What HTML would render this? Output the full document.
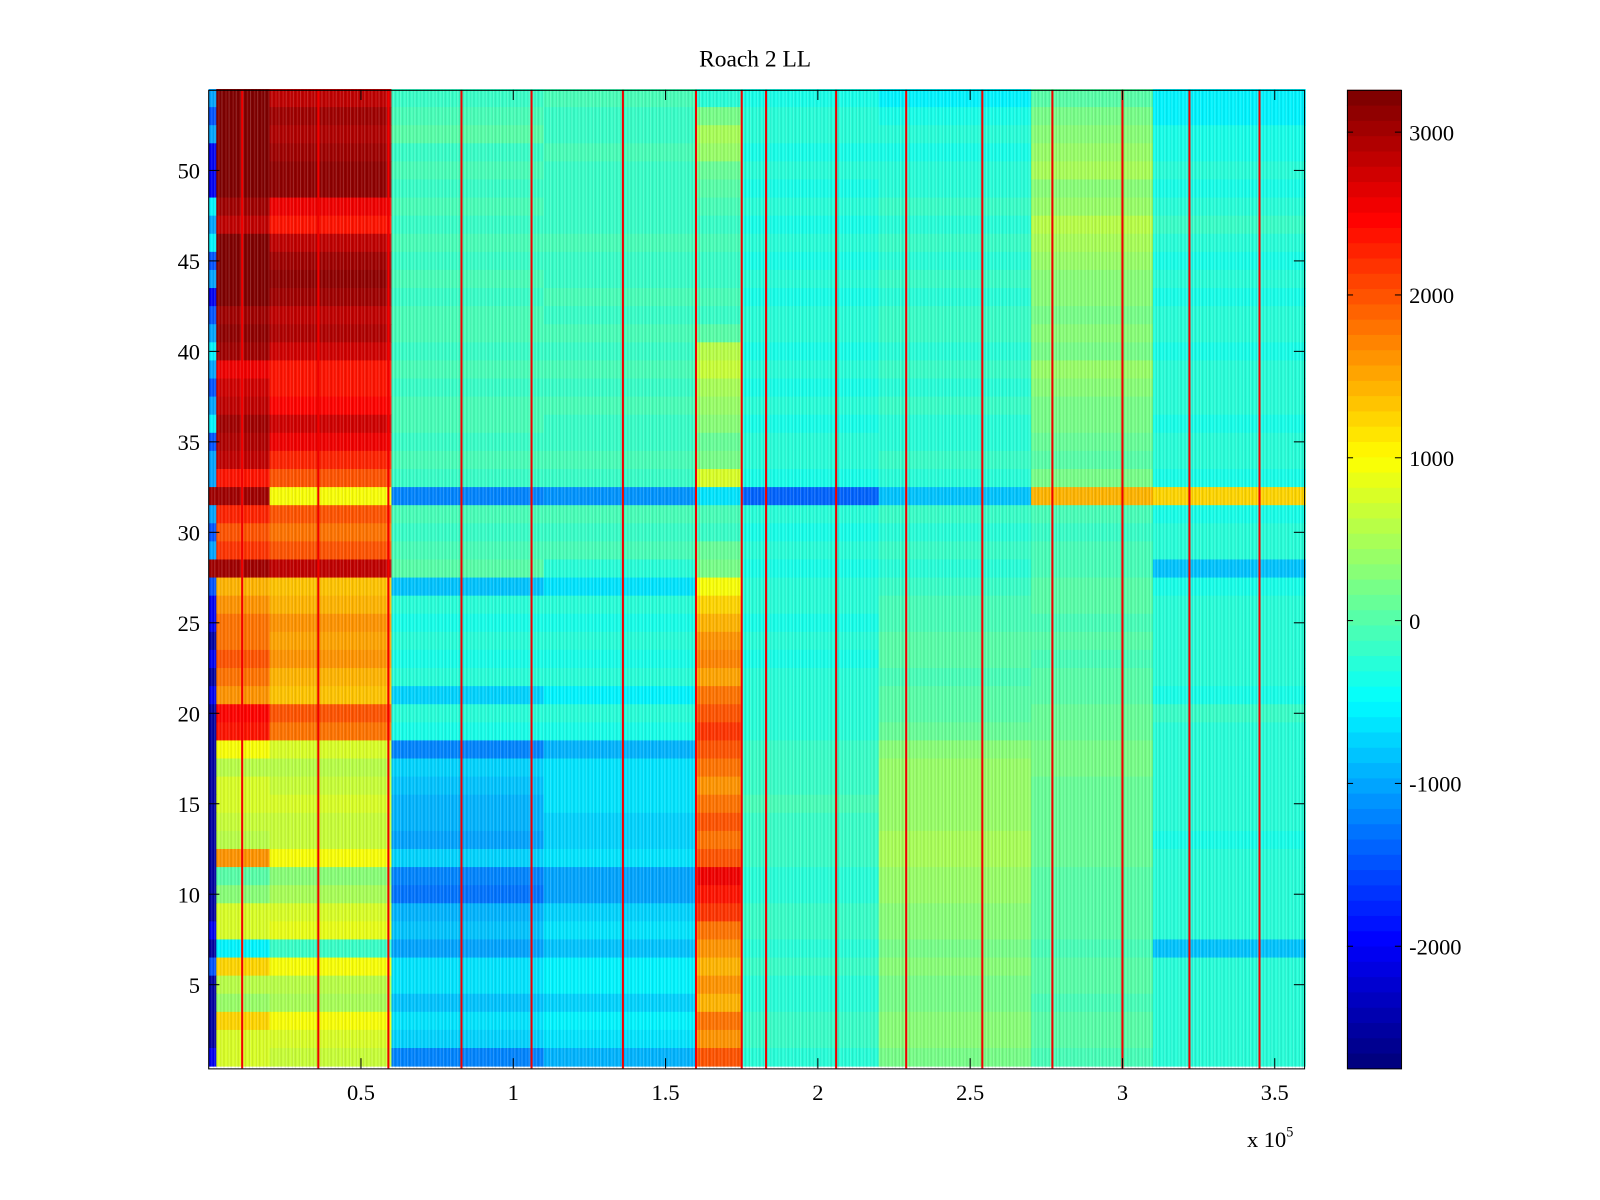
<!DOCTYPE html>
<html><head><meta charset="utf-8"><style>
html,body{margin:0;padding:0;background:#fff;}
svg{display:block;font-family:"Liberation Serif",serif;}
</style></head><body>
<svg id="chart" width="1600" height="1200" viewBox="0 0 1568 1176" xmlns="http://www.w3.org/2000/svg">
<defs>
<pattern id="tex" width="7" height="18" patternUnits="userSpaceOnUse">
<rect x="0" y="0" width="1" height="18" fill="rgba(255,255,255,0.18)"/>
<rect x="2" y="0" width="1" height="18" fill="rgba(0,0,0,0.10)"/>
<rect x="4" y="0" width="1" height="18" fill="rgba(255,255,255,0.12)"/>
<rect x="6" y="0" width="1" height="18" fill="rgba(0,0,0,0.08)"/>
</pattern>
</defs>
<text x="740" y="65" font-size="23" text-anchor="middle">Roach 2 LL</text>
<g id="cells"></g>
<rect x="205" y="88" width="1073" height="959" fill="url(#tex)"/>
<g id="spikes"></g>
<rect x="204.5" y="88.5" width="1074" height="959" fill="none" stroke="#000" stroke-width="1"/>
<g id="axes"></g>
<g id="cbar"></g>
</svg>
<script>
const xEdges = [0,0.025,0.2,0.6,1.1,1.6,1.75,2.2,2.7,3.1,3.6];
const rowsTopDown = [
[-10,32,28,-2,-1,-3,-4,-5,0,-5],[-15,32,30,-1,-2,2,-3,-4,2,-5],[-10,32,29,0,-2,5,-3,-3,3,-4],
[-20,32,30,-2,-1,4,-4,-4,4,-4],[-20,32,31,-1,-2,1,-3,-3,5,-3],[-20,32,31,-2,-2,0,-4,-3,3,-4],
[-5,30,26,-1,-2,-1,-3,-2,4,-3],[-10,28,24,-2,-2,-2,-4,-3,6,-2],[-5,32,28,-1,-1,-1,-3,-2,5,-3],
[-15,32,30,-2,-2,-2,-4,-3,4,-4],[-10,32,31,-1,-2,-2,-3,-2,3,-3],[-20,32,30,-2,-1,-1,-4,-3,3,-4],
[-15,30,28,-1,-2,-2,-3,-2,2,-3],[-10,31,29,-1,-1,0,-3,-2,3,-3],[-5,30,27,-2,-2,6,-4,-3,2,-4],
[-10,26,24,-1,-1,7,-3,-2,4,-3],[-15,27,24,-2,-2,5,-4,-3,3,-3],[-10,28,25,-1,-1,4,-3,-2,2,-3],
[-5,30,27,-1,-2,3,-4,-3,2,-4],[-15,29,26,-2,-2,1,-3,-3,1,-3],[-10,28,23,-1,-1,2,-3,-2,0,-3],
[-10,24,20,-2,-2,8,-4,-3,2,-4],[30,30,10,-12,-11,-6,-14,-8,14,12],[-10,23,20,-1,-1,-1,-3,-2,-1,-4],
[-15,20,18,-2,-2,-2,-4,-3,-2,-3],[-10,22,20,-1,-1,1,-3,-2,-1,-3],[30,30,28,0,-3,2,-4,-3,-1,-8],
[-15,14,13,-8,-6,10,-3,-2,0,-4],[-20,16,14,-3,-3,12,-3,-1,0,-3],[-20,18,16,-4,-4,14,-4,-1,-1,-3],
[-25,18,15,-3,-3,16,-3,0,0,-3],[-20,20,16,-4,-4,17,-4,0,-1,-3],[-25,18,14,-3,-3,15,-3,-1,0,-3],
[-20,16,13,-7,-5,18,-3,0,0,-4],[-25,25,20,-3,-3,20,-3,0,1,-2],[-25,24,18,-4,-4,22,-3,1,1,-3],
[-25,10,8,-12,-9,20,-2,3,2,-3],[-25,6,6,-7,-6,18,-2,4,2,-3],[-25,8,7,-8,-6,16,-2,4,1,-3],
[-25,8,8,-9,-6,18,-1,4,1,-3],[-25,7,7,-9,-7,20,-2,4,1,-3],[-25,6,7,-10,-7,18,-2,5,1,-4],
[-25,16,10,-7,-6,20,-2,5,1,-3],[-25,0,3,-12,-10,26,-3,4,0,-3],[-25,3,5,-13,-10,24,-3,4,0,-3],
[-25,8,8,-9,-7,22,-2,3,0,-3],[-20,8,9,-8,-6,18,-2,3,0,-3],[-25,-5,-2,-10,-8,16,-3,2,-1,-8],
[-15,12,10,-6,-5,14,-2,3,0,-3],[-25,6,6,-6,-5,16,-3,2,0,-3],[-25,4,5,-8,-7,14,-3,2,-1,-3],
[-25,12,10,-6,-5,18,-2,3,0,-3],[-25,8,8,-7,-6,16,-2,3,0,-3],[-20,8,7,-12,-9,20,-3,2,-1,-3]
];
const spikeX = [0.11,0.36,0.59,0.83,1.06,1.36,1.6,1.75,1.83,2.06,2.29,2.54,2.77,3.0,3.22,3.45];
const spikeValue = 2600;
const xTicks = [0.5,1,1.5,2,2.5,3,3.5];
const xTickLabels = ["0.5","1","1.5","2","2.5","3","3.5"];
const yTicks = [5,10,15,20,25,30,35,40,45,50];
const cTicks = [-2000,-1000,0,1000,2000,3000];
const cMin = -2750, cMax = 3260;

const NS = "http://www.w3.org/2000/svg";
function xs(v){return 204.5 + v*298.5;}
function ys(v){return 965 - (v-5)*17.733;}
function cs(v){return 1047 - (v-cMin)/(cMax-cMin)*959;}
function jet(v){
  let t=(v-cMin)/(cMax-cMin); t=Math.max(0,Math.min(1,t));
  t=Math.floor(t*63.999)/63;
  const f=x=>Math.max(0,Math.min(1,x));
  const r=f(1.5-Math.abs(4*t-3)), g=f(1.5-Math.abs(4*t-2)), b=f(1.5-Math.abs(4*t-1));
  return `rgb(${Math.round(r*255)},${Math.round(g*255)},${Math.round(b*255)})`;
}
function mk(tag,attrs,parent){const e=document.createElementNS(NS,tag);for(const k in attrs)e.setAttribute(k,attrs[k]);parent.appendChild(e);return e;}

const cells=document.getElementById('cells');
rowsTopDown.forEach((row,ri)=>{
  const yv=54-ri;
  row.forEach((val,ci)=>{
    const x0=xs(xEdges[ci]), x1=xs(xEdges[ci+1]);
    const y0=ys(yv+0.5), y1=ys(yv-0.5);
    const r=mk('rect',{x:x0,y:y0,width:x1-x0+0.5,height:y1-y0+0.5,fill:jet(val*100)},cells);
    
    
  });
});
const spikes=document.getElementById('spikes');
spikeX.forEach(sx=>{
  const r=mk('rect',{x:xs(sx)-1,y:88,width:2,height:959,fill:jet(spikeValue)},spikes);
  
  
});
const axes=document.getElementById('axes');
xTicks.forEach((t,i)=>{
  const x=xs(t);
  mk('line',{x1:x,y1:1047,x2:x,y2:1037,stroke:'#000'},axes);
  mk('line',{x1:x,y1:88,x2:x,y2:98,stroke:'#000'},axes);
  const tx=mk('text',{x:x,y:1078,'font-size':22,'text-anchor':'middle'},axes);
  tx.textContent=xTickLabels[i];
  
  
});
yTicks.forEach(t=>{
  const y=ys(t);
  mk('line',{x1:205,y1:y,x2:215,y2:y,stroke:'#000'},axes);
  mk('line',{x1:1278,y1:y,x2:1268,y2:y,stroke:'#000'},axes);
  const tx=mk('text',{x:196,y:y+8,'font-size':22,'text-anchor':'end'},axes);
  tx.textContent=String(t);
  
  
});
const ex=mk('text',{x:1222,y:1124,'font-size':22},axes);
ex.innerHTML='x 10<tspan dy="-10" font-size="14">5</tspan>';



const cbar=document.getElementById('cbar');
for(let i=0;i<64;i++){
  const v0=cMin+(cMax-cMin)*i/64, v1=cMin+(cMax-cMin)*(i+1)/64;
  const r=mk('rect',{x:1320,y:cs(v1),width:53,height:cs(v0)-cs(v1)+0.5,fill:jet((v0+v1)/2)},cbar);
  
  
}
mk('rect',{x:1320.5,y:88.5,width:53,height:959,fill:'none',stroke:'#000'},cbar);
cTicks.forEach(t=>{
  const y=cs(t);
  mk('line',{x1:1320,y1:y,x2:1326,y2:y,stroke:'#000'},cbar);
  mk('line',{x1:1373,y1:y,x2:1367,y2:y,stroke:'#000'},cbar);
  const tx=mk('text',{x:1381,y:y+8,'font-size':22},cbar);
  tx.textContent=String(t);
  
  
});
</script>
</body></html>
